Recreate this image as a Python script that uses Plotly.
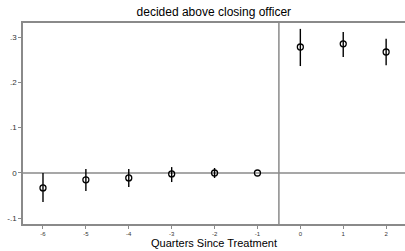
import plotly.graph_objects as go
import numpy as np

quarters = ["-6", "-5", "-4", "-3", "-2", "-1", "0", "1", "2"]
estimate = [-0.033, -0.015, -0.011, -0.002, 0.000, 0.000, 0.278, 0.285, 0.267]
ci_low = [-0.064, -0.040, -0.031, -0.020, -0.011, 0.000, 0.236, 0.256, 0.238]
ci_high = [0.000, 0.009, 0.009, 0.013, 0.011, 0.000, 0.318, 0.311, 0.296]
y_tickvals = [-0.1, 0, 0.1, 0.2, 0.3]
y_ticktext = ["-.1", "0", ".1", ".2", ".3"]

est = np.array(estimate)
plus = np.array(ci_high) - est
minus = est - np.array(ci_low)

fig = go.Figure()
fig.add_trace(go.Scatter(
    x=quarters, y=estimate, mode="markers",
    marker=dict(symbol="circle-open", size=6, color="black", line=dict(width=1.3)),
    error_y=dict(type="data", array=plus, arrayminus=minus, symmetric=False,
                 width=0, thickness=1.4, color="black"),
    showlegend=False,
))

fig.add_shape(type="line", xref="paper", yref="y", x0=0, x1=1, y0=0, y1=0,
              line=dict(color="#8a8a8a", width=1.3), layer="below")
fig.add_shape(type="line", xref="x", yref="paper", x0=5.5, x1=5.5, y0=0, y1=1,
              line=dict(color="#8a8a8a", width=1.5), layer="below")

fig.update_layout(
    width=405, height=251,
    margin=dict(l=23, r=0, t=23, b=27, autoexpand=False),
    plot_bgcolor="white", paper_bgcolor="white",
    font=dict(family="Liberation Sans, Arial, sans-serif", color="black"),
    title=dict(text="decided above closing officer", x=0.528, xanchor="center",
               y=0.952, yanchor="middle", font=dict(size=12)),
    xaxis=dict(
        type="category", range=[-0.466, 8.44],
        showgrid=False, zeroline=False,
        showline=True, linecolor="#8a8a8a", linewidth=1.5, mirror=True,
        ticks="outside", ticklen=3, tickcolor="#8a8a8a", tickwidth=1,
        tickfont=dict(size=6, color="#333"),
        title=dict(text="Quarters Since Treatment", font=dict(size=11), standoff=2),
    ),
    yaxis=dict(
        range=[-0.1126, 0.331],
        tickvals=y_tickvals, ticktext=y_ticktext,
        showgrid=False, zeroline=False,
        showline=True, linecolor="#8a8a8a", linewidth=1.5,
        ticks="outside", ticklen=3, tickcolor="#8a8a8a", tickwidth=1,
        tickfont=dict(size=8, color="#333"),
    ),
)

fig.write_html("out.html", config={"displayModeBar": False},
               post_script="document.body.style.margin='0';")
